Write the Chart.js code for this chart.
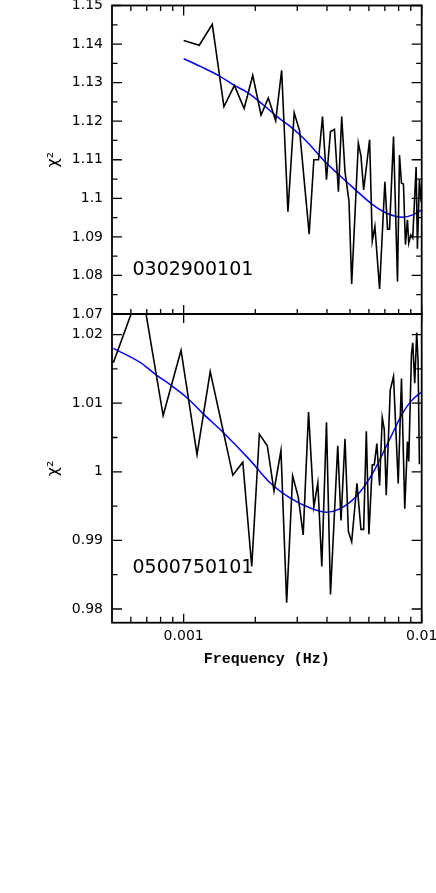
<!DOCTYPE html>
<html><head><meta charset="utf-8">
<script src="https://cdn.jsdelivr.net/npm/chart.js@4/dist/chart.umd.min.js"></script>
<style>
html,body{margin:0;padding:0;background:#fff;width:436px;height:893px;overflow:hidden;}
canvas{position:absolute;left:0;}
#c1{top:0;}
#c2{top:300px;}
</style></head><body>
<canvas id="c1" width="436" height="330"></canvas>
<canvas id="c2" width="436" height="400"></canvas>
<script>
// ---- data ----
const topFreq = [0.001, 0.001163, 0.001319, 0.001476, 0.001634, 0.001795, 0.001951, 0.002114, 0.002268, 0.002436, 0.00258, 0.002742, 0.002913, 0.00307, 0.003367, 0.003523, 0.003686, 0.003831, 0.003981, 0.004138, 0.0043, 0.004469, 0.004613, 0.00476, 0.00495, 0.00508, 0.005418, 0.005556, 0.005703, 0.006042, 0.006201, 0.006359, 0.006653, 0.007003, 0.007187, 0.007327, 0.007614, 0.007913, 0.008067, 0.008224, 0.008381, 0.008545, 0.008712, 0.008822, 0.008995, 0.009169, 0.009475, 0.009594, 0.009781, 0.00995];
const topChi = [1.1409, 1.1397, 1.1451, 1.1238, 1.1293, 1.1233, 1.1319, 1.1216, 1.1260, 1.1201, 1.1332, 1.0965, 1.1222, 1.1175, 1.0907, 1.1100, 1.1100, 1.1212, 1.1048, 1.1173, 1.1179, 1.1017, 1.1212, 1.1070, 1.0992, 1.0778, 1.1143, 1.1110, 1.1022, 1.1152, 1.0889, 1.0927, 1.0765, 1.1043, 1.0920, 1.0920, 1.1160, 1.0784, 1.1112, 1.1039, 1.1037, 1.0880, 1.0944, 1.0884, 1.0905, 1.0897, 1.1081, 1.0869, 1.1048, 1.0990];

const topFitFreq = [0.001, 0.001175, 0.001415, 0.001619, 0.001871, 0.002161, 0.002538, 0.002796, 0.003058, 0.003283, 0.003853, 0.004524, 0.005315, 0.006237, 0.007096, 0.008328, 0.009169, 0.01];
const topFit = [1.1362, 1.1342, 1.1317, 1.1294, 1.1273, 1.1242, 1.1206, 1.1187, 1.1166, 1.1148, 1.1100, 1.1059, 1.1020, 1.0983, 1.0962, 1.0951, 1.0957, 1.0970];

const botFreq = [0.0005065, 0.000664, 0.00082, 0.000975, 0.001138, 0.001293, 0.001609, 0.001772, 0.001932, 0.00208, 0.002246, 0.002396, 0.002563, 0.002708, 0.002869, 0.00303, 0.003178, 0.003347, 0.003523, 0.003661, 0.003805, 0.003981, 0.004138, 0.004439, 0.004582, 0.004762, 0.00492, 0.00508, 0.005346, 0.005556, 0.005703, 0.005853, 0.006, 0.006201, 0.006321, 0.006482, 0.006653, 0.006828, 0.006962, 0.007096, 0.007376, 0.007614, 0.007968, 0.008224, 0.008489, 0.008712, 0.008822, 0.009055, 0.009169, 0.009348, 0.00953, 0.009658, 0.009781];
const botChi = [1.0159, 1.0271, 1.0082, 1.0177, 1.0025, 1.0146, 0.9995, 1.0014, 0.9862, 1.0055, 1.0038, 0.9972, 1.0031, 0.9809, 0.9994, 0.9963, 0.9908, 1.0087, 0.9949, 0.9984, 0.9862, 1.0072, 0.9821, 1.0038, 0.9929, 1.0048, 0.9913, 0.9898, 0.9983, 0.9916, 0.9916, 1.0059, 0.9909, 1.0010, 1.0010, 1.0041, 0.9980, 1.0079, 1.0062, 0.9966, 1.0119, 1.0139, 0.9983, 1.0136, 0.9946, 1.0044, 1.0015, 1.0171, 1.0188, 1.0129, 1.0203, 1.0159, 1.0011];

const botFitFreq = [0.0005065, 0.000659, 0.000761, 0.000894, 0.001033, 0.001212, 0.00147, 0.0019, 0.002306, 0.002796, 0.003389, 0.003981, 0.004524, 0.005315, 0.006237, 0.007327, 0.008328, 0.009028, 0.009781, 0.01];
const botFit = [1.0180, 1.0159, 1.0142, 1.0125, 1.0108, 1.0084, 1.0057, 1.0017, 0.9984, 0.9962, 0.99475, 0.99411, 0.9946, 0.99644, 0.99985, 1.0047, 1.0086, 1.0103, 1.0114, 1.0116];

const xLabelValues = [0.001, 0.01];
const xLabelText = ['0.001', '0.01'];
const xMajorTicks = [0.001, 0.01];
const xMinorTicks = [0.0006, 0.0007, 0.0008, 0.0009, 0.002, 0.003, 0.004, 0.005, 0.006, 0.007, 0.008, 0.009];

const topYTicks = [1.07, 1.08, 1.09, 1.10, 1.11, 1.12, 1.13, 1.14, 1.15];
const topYLabels = ['1.07', '1.08', '1.09', '1.1', '1.11', '1.12', '1.13', '1.14', '1.15'];
const topYMinor = [1.075, 1.085, 1.095, 1.105, 1.115, 1.125, 1.135, 1.145];
const botYTicks = [0.98, 0.99, 1.00, 1.01, 1.02];
const botYLabels = ['0.98', '0.99', '1', '1.01', '1.02'];
const botYMinor = [0.985, 0.995, 1.005, 1.015];

const topName = '0302900101';
const botName = '0500750101';
const yTitle = 'χ²';
const xTitle = 'Frequency (Hz)';

const pts = (xs, ys) => xs.map((x, i) => ({x: x, y: ys[i]}));

const panelDecor = {
  id: 'panelDecor',
  afterDraw(chart, args, o) {
    const {ctx, chartArea: a, scales} = chart;
    const xs = scales.x, ys = scales.y;
    ctx.save();
    ctx.strokeStyle = '#000';
    ctx.lineWidth = 1.3;
    ctx.beginPath();
    const yT = (vals, len) => vals.forEach(v => {
      const p = ys.getPixelForValue(v);
      ctx.moveTo(a.left, p); ctx.lineTo(a.left + len, p);
      ctx.moveTo(a.right, p); ctx.lineTo(a.right - len, p);
    });
    yT(o.yMajor, 10); yT(o.yMinor, 5.5);
    const xT = (vals, len, edge, dir) => vals.forEach(v => {
      const p = xs.getPixelForValue(v);
      ctx.moveTo(p, edge); ctx.lineTo(p, edge + dir * len);
    });
    xT(xMajorTicks, o.topMajor, a.top, 1);
    if (o.topMinor) xT(xMinorTicks, o.topMinor, a.top, 1);
    xT(xMajorTicks, o.botMajor, a.bottom, -1);
    xT(xMinorTicks, o.botMinor, a.bottom, -1);
    ctx.stroke();
    ctx.lineWidth = 1.8;
    ctx.strokeRect(a.left, a.top, a.right - a.left, a.bottom - a.top);
    ctx.font = '19px "DejaVu Sans"';
    ctx.fillStyle = '#000';
    ctx.textAlign = 'left';
    ctx.textBaseline = 'middle';
    ctx.fillText(o.label, a.left + 20.5, ys.getPixelForValue(o.labelValue));
    ctx.restore();
  }
};

const tickFont = {family: 'DejaVu Sans', size: 14};

function yScale(min, max, vals, labels) {
  return {
    type: 'linear', position: 'left', min: min, max: max,
    afterBuildTicks: s => { s.ticks = vals.map(v => ({value: v})); },
    afterFit: s => { s.width = 112; s.paddingTop = 0; s.paddingBottom = 0; },
    ticks: {color: '#000', font: tickFont, padding: 9, autoSkip: false,
            callback: (v, i) => labels[i]},
    grid: {display: false, drawTicks: false},
    border: {display: false},
    title: {display: true, text: yTitle, color: '#000', font: {family: 'DejaVu Sans', size: 16}, padding: {top: 44.5, bottom: 0}}
  };
}

function lineSet(data, color, w) {
  return {data: data, borderColor: color, borderWidth: w, pointRadius: 0, fill: false,
          tension: 0, spanGaps: true};
}

new Chart(document.getElementById('c1'), {
  type: 'line',
  data: {datasets: [
    lineSet(pts(topFreq, topChi), '#000', 1.6),
    Object.assign(lineSet(pts(topFitFreq, topFit), '#0000ff', 1.5), {cubicInterpolationMode: 'monotone'})
  ]},
  options: {
    responsive: false, animation: false, devicePixelRatio: 1,
    layout: {autoPadding: false, padding: {left: 0, top: 5.5, right: 14.3, bottom: 16}},
    plugins: {legend: {display: false}, tooltip: {enabled: false},
      panelDecor: {yMajor: topYTicks, yMinor: topYMinor, topMajor: 10, topMinor: 5.5,
                   botMajor: 9, botMinor: 5, label: topName, labelValue: 1.0815}},
    scales: {
      x: {type: 'logarithmic', min: 0.0005, max: 0.01, display: false},
      y: yScale(1.07, 1.15, topYTicks, topYLabels)
    }
  },
  plugins: [panelDecor]
});

new Chart(document.getElementById('c2'), {
  type: 'line',
  data: {datasets: [
    lineSet(pts(botFreq, botChi), '#000', 1.6),
    Object.assign(lineSet(pts(botFitFreq, botFit), '#0000ff', 1.5), {cubicInterpolationMode: 'monotone'})
  ]},
  options: {
    responsive: false, animation: false, devicePixelRatio: 1,
    layout: {autoPadding: false, padding: {left: 0, top: 14, right: 14.3, bottom: 0}},
    plugins: {legend: {display: false}, tooltip: {enabled: false},
      panelDecor: {yMajor: botYTicks, yMinor: botYMinor, topMajor: 9, topMinor: 0,
                   botMajor: 9, botMinor: 6, label: botName, labelValue: 0.9859}},
    scales: {
      x: {
        type: 'logarithmic', position: 'bottom', min: 0.0005, max: 0.01,
        afterBuildTicks: s => { s.ticks = xLabelValues.map(v => ({value: v})); },
        afterFit: s => { s.height = 77.3; s.paddingLeft = 0; s.paddingRight = 0; },
        ticks: {color: '#000', font: tickFont, padding: 5, autoSkip: false, maxRotation: 0, minRotation: 0,
                callback: (v) => { const k = xLabelValues.indexOf(v); return k >= 0 ? xLabelText[k] : ''; }},
        grid: {display: false, drawTicks: false},
        border: {display: false},
        title: {display: true, text: xTitle, color: '#000',
                font: {family: 'Liberation Mono', size: 15, weight: 'bold'}, padding: {top: 0, bottom: 32}}
      },
      y: yScale(0.978, 1.023, botYTicks, botYLabels)
    }
  },
  plugins: [panelDecor]
});
</script>
</body></html>
